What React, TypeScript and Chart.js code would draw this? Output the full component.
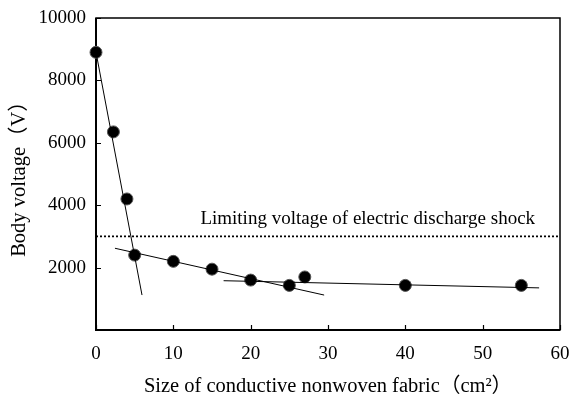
import React, { useEffect, useRef } from 'react';
import { Chart, registerables } from 'chart.js';

Chart.register(...registerables);

// measured points: size of conductive nonwoven fabric (cm²) vs body voltage (V)
const sizes = [0, 2.25, 4, 5, 10, 15, 20, 25, 27, 40, 55];
const voltages = [8900, 6350, 4200, 2400, 2200, 1950, 1600, 1430, 1700, 1430, 1430];

// fitted trend lines (end points)
const steepFitX = [0, 5.95];
const steepFitY = [8900, 1120];
const middleFitX = [2.45, 29.5];
const middleFitY = [2620, 1120];
const flatFitX = [16.5, 57.3];
const flatFitY = [1580, 1350];

// limiting voltage of electric discharge shock
const limitVoltage = 3000;
const limitRangeX = [0, 60];
const limitLabel = 'Limiting voltage of electric discharge shock';
const limitLabelAt = [13.5, 3400];

const xTicks = [0, 10, 20, 30, 40, 50, 60];
const yTicks = [0, 2000, 4000, 6000, 8000, 10000];

const xTitle = 'Size of conductive nonwoven fabric（cm²）';
const yTitle = 'Body voltage（V）';

const FONT = '"Liberation Serif", "Times New Roman", "Noto Sans CJK JP", serif';
const FS = 19;
const TFS = 20.5;

const pts = (xs: number[], ys: number[]) => xs.map((x, i) => ({ x, y: ys[i] }));

const framePlugin = {
  id: 'frame',
  beforeDatasetsDraw(chart: any) {
    const { ctx, chartArea: a, scales } = chart;
    ctx.save();
    ctx.strokeStyle = '#000';
    ctx.lineWidth = 1.5;
    ctx.strokeRect(a.left, a.top, a.right - a.left, a.bottom - a.top);
    ctx.lineWidth = 2;
    ctx.beginPath();
    ctx.moveTo(a.left, a.top);
    ctx.lineTo(a.left, a.bottom);
    ctx.lineTo(a.right, a.bottom);
    ctx.stroke();
    ctx.lineWidth = 1.2;
    ctx.beginPath();
    for (const v of xTicks) {
      const px = Math.round(scales.x.getPixelForValue(v)) + 0.5;
      ctx.moveTo(px, a.bottom);
      ctx.lineTo(px, a.bottom - 5);
    }
    for (const v of yTicks) {
      const py = Math.round(scales.y.getPixelForValue(v)) + 0.5;
      ctx.moveTo(a.left, py);
      ctx.lineTo(a.left + 5, py);
    }
    ctx.stroke();
    ctx.restore();
  },
  afterDraw(chart: any) {
    const { ctx, scales } = chart;
    ctx.save();
    ctx.fillStyle = '#000';
    ctx.font = `${FS}px ${FONT}`;
    ctx.textAlign = 'left';
    ctx.textBaseline = 'alphabetic';
    ctx.fillText(
      limitLabel,
      scales.x.getPixelForValue(limitLabelAt[0]),
      scales.y.getPixelForValue(limitLabelAt[1])
    );
    ctx.restore();
  },
};

export default function App() {
  const ref = useRef<HTMLCanvasElement>(null);
  useEffect(() => {
    if (!ref.current) return;
    const lineDs = (xs: number[], ys: number[], extra: any = {}) => ({
      type: 'line' as const,
      data: pts(xs, ys),
      borderColor: '#000',
      borderWidth: 1,
      pointRadius: 0,
      showLine: true,
      fill: false,
      clip: false,
      ...extra,
    });
    const chart = new Chart(ref.current, {
      type: 'scatter',
      data: {
        datasets: [
          lineDs(limitRangeX, [limitVoltage, limitVoltage], { borderWidth: 1.6, borderDash: [2, 2] }),
          lineDs(steepFitX, steepFitY),
          lineDs(middleFitX, middleFitY),
          lineDs(flatFitX, flatFitY),
          {
            type: 'scatter' as const,
            data: pts(sizes, voltages),
            pointRadius: 6,
            pointHoverRadius: 6,
            backgroundColor: '#000',
            borderColor: '#555',
            borderWidth: 1,
            clip: false,
          } as any,
        ],
      },
      options: {
        animation: false,
        responsive: false,
        layout: { padding: { top: 18, right: 9, left: 0, bottom: 0 } },
        plugins: { legend: { display: false }, tooltip: { enabled: false } },
        scales: {
          x: {
            type: 'linear',
            min: 0,
            max: 60,
            afterBuildTicks: (s: any) => { s.ticks = xTicks.map((v) => ({ value: v })); },
            afterFit: (s: any) => { s.height = 69; s.paddingLeft = 0; s.paddingRight = 0; },
            grid: { display: false, drawTicks: false },
            border: { display: false },
            ticks: { color: '#000', font: { family: FONT, size: FS }, padding: 13, maxRotation: 0 },
            title: { display: true, text: xTitle, color: '#000', font: { family: FONT, size: TFS }, padding: { bottom: 0 } },
          },
          y: {
            type: 'linear',
            min: 0,
            max: 10000,
            afterBuildTicks: (s: any) => { s.ticks = yTicks.map((v) => ({ value: v })); },
            afterFit: (s: any) => { s.width = 96; s.paddingTop = 0; s.paddingBottom = 0; },
            grid: { display: false, drawTicks: false },
            border: { display: false },
            ticks: {
              color: '#000',
              font: { family: FONT, size: FS },
              padding: 10,
              callback: (v: any) => (v === 0 ? '' : String(v)),
            },
            title: { display: true, text: yTitle, color: '#000', font: { family: FONT, size: TFS }, padding: { top: 7 } },
          },
        },
      },
      plugins: [framePlugin],
    } as any);
    return () => chart.destroy();
  }, []);
  return (
    <div style={{ position: 'absolute', left: 0, top: 0, width: 569, height: 399, background: '#fff' }}>
      <canvas ref={ref} width={569} height={399} />
    </div>
  );
}
